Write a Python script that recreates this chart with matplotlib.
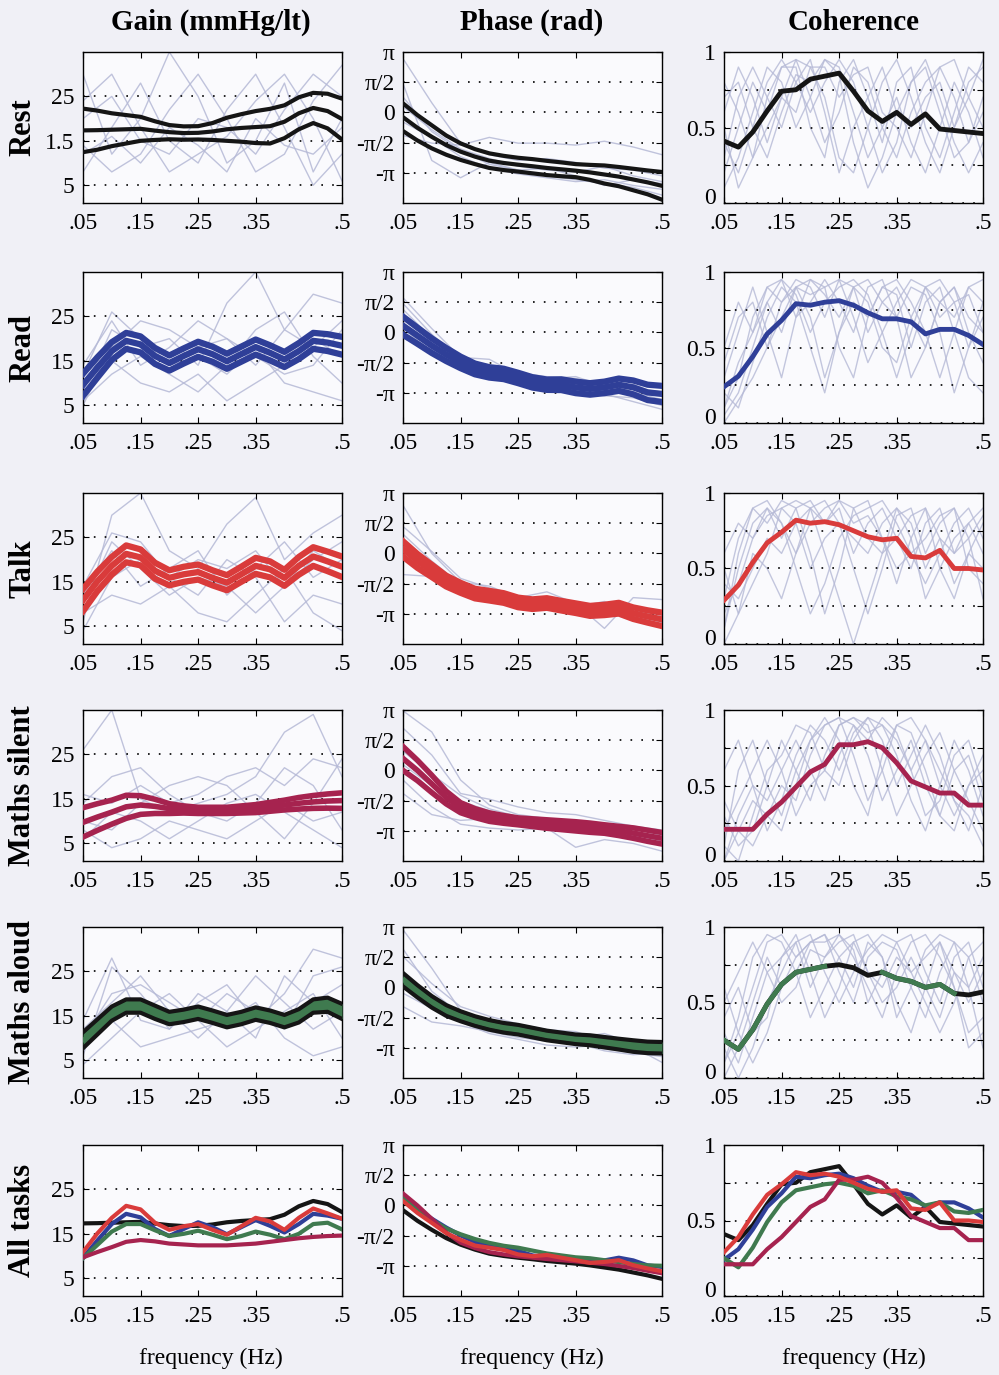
import numpy as np
import matplotlib
matplotlib.use("Agg")
import matplotlib.pyplot as plt

plt.rcParams['font.family'] = ['Liberation Serif', 'DejaVu Serif']

# ---------------- data ----------------
FREQ = [0.05, 0.075, 0.1, 0.125, 0.15, 0.175, 0.2, 0.225, 0.25, 0.275,
        0.3, 0.325, 0.35, 0.375, 0.4, 0.425, 0.45, 0.475, 0.5]
FREQ10 = [0.05, 0.1, 0.15, 0.2, 0.25, 0.3, 0.35, 0.4, 0.45, 0.5]

row_labels = ['Rest', 'Read', 'Talk', 'Maths silent', 'Maths aloud', 'All tasks']
col_titles = ['Gain (mmHg/lt)', 'Phase (rad)', 'Coherence']
xtick_vals = [0.05, 0.15, 0.25, 0.35, 0.5]
xtick_labels = ['.05', '.15', '.25', '.35', '.5']
gain_ticks = [5, 15, 25]
phase_ticks = [np.pi, np.pi / 2, 0, -np.pi / 2, -np.pi]
phase_tick_labels = ['π', 'π/2', '0', '-π/2', '-π']
coh_ticks = [0, 0.25, 0.5, 0.75, 1]
coh_tick_labels = ['', '', '0.5', '', '1']   # '0' is drawn separately, nudged up

# group means and standard errors
rest_gain_mean = [17.35, 17.4, 17.5, 17.6, 17.7, 17.3, 16.95, 16.75, 16.8, 17.1, 17.6, 17.9, 18.1, 18.3, 19.3, 21.2, 22.4, 21.7, 19.9]
rest_gain_se = [4.9, 4.4, 3.7, 3.2, 2.7, 2.1, 1.6, 1.5, 1.5, 1.9, 2.6, 3.1, 3.6, 3.9, 3.7, 3.6, 3.4, 3.9, 4.6]
rest_phase_mean = [-0.25, -0.80, -1.27, -1.70, -2.04, -2.30, -2.51, -2.63, -2.72, -2.80, -2.89, -2.96, -3.03, -3.12, -3.23, -3.34, -3.49, -3.64, -3.82]
rest_phase_se = [0.72, 0.66, 0.60, 0.50, 0.43, 0.39, 0.38, 0.37, 0.36, 0.37, 0.37, 0.36, 0.34, 0.39, 0.47, 0.50, 0.56, 0.62, 0.72]
rest_coh = [0.41, 0.37, 0.47, 0.61, 0.74, 0.75, 0.82, 0.84, 0.86, 0.74, 0.61, 0.54, 0.60, 0.52, 0.59, 0.49, 0.48, 0.47, 0.46]

read_gain_mean = [9.6, 13.5, 17.2, 19.5, 18.7, 16.1, 14.5, 16.1, 17.6, 16.5, 14.9, 16.5, 18.1, 16.8, 15.3, 17.2, 19.5, 19.1, 18.4]
read_gain_se = [2.5, 2.3, 2.0, 1.8, 1.8, 1.8, 1.7, 1.7, 1.7, 1.7, 1.7, 1.7, 1.7, 1.7, 1.7, 1.8, 1.8, 1.9, 2.0]
read_phase_mean = [0.35, -0.17, -0.69, -1.15, -1.56, -1.9, -2.08, -2.16, -2.37, -2.6, -2.72, -2.72, -2.86, -2.94, -2.86, -2.72, -2.86, -3.12, -3.2]
read_phase_se = [0.47, 0.42, 0.38, 0.34, 0.3, 0.28, 0.27, 0.27, 0.27, 0.27, 0.27, 0.28, 0.3, 0.3, 0.3, 0.32, 0.36, 0.4, 0.42]
read_coh = [0.24, 0.31, 0.44, 0.59, 0.68, 0.79, 0.78, 0.80, 0.81, 0.78, 0.73, 0.69, 0.69, 0.67, 0.59, 0.62, 0.62, 0.58, 0.52]

talk_gain_mean = [10.9, 15.1, 18.6, 21.3, 20.5, 17.5, 15.9, 16.7, 17.2, 15.9, 14.8, 16.7, 18.6, 17.8, 15.9, 18.6, 20.7, 19.6, 18.4]
talk_gain_se = [2.5, 2.2, 2.0, 1.9, 1.8, 1.8, 1.7, 1.7, 1.7, 1.7, 1.7, 1.7, 1.8, 1.8, 1.8, 2.0, 2.1, 2.2, 2.3]
talk_phase_mean = [0.23, -0.39, -0.91, -1.44, -1.79, -2.09, -2.2, -2.32, -2.55, -2.64, -2.58, -2.72, -2.85, -2.99, -2.94, -2.85, -3.11, -3.28, -3.43]
talk_phase_se = [0.4, 0.36, 0.32, 0.28, 0.26, 0.25, 0.25, 0.25, 0.25, 0.25, 0.25, 0.25, 0.25, 0.26, 0.27, 0.28, 0.3, 0.32, 0.35]
talk_coh = [0.29, 0.39, 0.54, 0.67, 0.74, 0.82, 0.80, 0.81, 0.79, 0.75, 0.71, 0.69, 0.70, 0.58, 0.57, 0.62, 0.50, 0.50, 0.49]

silent_gain_mean = [9.7, 10.9, 12.0, 13.2, 13.6, 13.3, 12.8, 12.6, 12.4, 12.4, 12.4, 12.6, 12.8, 13.2, 13.6, 14.0, 14.3, 14.5, 14.6]
silent_gain_se = [3.3, 3.0, 2.7, 2.6, 2.1, 1.6, 1.1, 0.8, 0.7, 0.7, 0.7, 0.8, 0.9, 1.0, 1.1, 1.3, 1.45, 1.6, 1.75]
silent_phase_mean = [0.62, 0.0, -0.7, -1.41, -1.94, -2.22, -2.43, -2.55, -2.65, -2.72, -2.79, -2.85, -2.91, -2.98, -3.05, -3.15, -3.26, -3.40, -3.53]
silent_phase_se = [0.62, 0.53, 0.45, 0.33, 0.26, 0.23, 0.22, 0.2, 0.18, 0.2, 0.22, 0.23, 0.24, 0.24, 0.22, 0.24, 0.27, 0.29, 0.3]
silent_coh = [0.21, 0.21, 0.21, 0.31, 0.39, 0.49, 0.59, 0.64, 0.77, 0.77, 0.79, 0.75, 0.65, 0.53, 0.49, 0.45, 0.45, 0.37, 0.37]

aloud_gain_mean = [9.5, 12.5, 15.5, 17.2, 17.2, 15.8, 14.5, 15.0, 15.7, 14.8, 13.8, 14.5, 15.5, 14.8, 13.8, 15.0, 17.2, 17.5, 16.0]
aloud_gain_se = [1.8, 1.7, 1.6, 1.5, 1.5, 1.5, 1.4, 1.4, 1.4, 1.4, 1.4, 1.4, 1.4, 1.4, 1.4, 1.5, 1.5, 1.6, 1.7]
aloud_phase_mean = [0.4, -0.2, -0.75, -1.2, -1.5, -1.75, -1.95, -2.1, -2.2, -2.35, -2.5, -2.6, -2.7, -2.75, -2.85, -2.95, -3.05, -3.12, -3.14]
aloud_phase_se = [0.35, 0.32, 0.3, 0.28, 0.26, 0.25, 0.25, 0.25, 0.25, 0.25, 0.25, 0.25, 0.25, 0.26, 0.27, 0.28, 0.3, 0.3, 0.3]
aloud_coh = [0.25, 0.19, 0.32, 0.49, 0.62, 0.70, 0.72, 0.74, 0.75, 0.73, 0.68, 0.70, 0.66, 0.64, 0.60, 0.62, 0.56, 0.55, 0.57]
aloud_coh_green_spans = [(0.05, 0.225), (0.325, 0.45)]

# individual subjects (subset), sampled on FREQ10 (gain, phase) / FREQ (coherence)
rest_gain_subj = [
    [30, 12, 20, 35, 25, 10, 15, 28, 8, 20],
    [8, 18, 28, 15, 10, 22, 30, 18, 5, 12],
    [20, 25, 15, 12, 20, 18, 12, 22, 30, 25],
    [14, 8, 12, 22, 30, 20, 8, 12, 24, 32],
    [24, 30, 18, 8, 12, 16, 24, 30, 20, 6],
    [12, 16, 10, 18, 14, 8, 20, 14, 12, 18],
]
rest_phase_subj = [
    [2.8, 0.5, -1.6, -2.2, -2.5, -2.4, -2.6, -2.9, -3.0, -3.3],
    [1.5, -2.5, -3.4, -2.6, -3.0, -2.9, -3.3, -3.8, -3.5, -3.7],
    [0.8, -1.0, -2.0, -2.7, -3.0, -3.3, -3.5, -3.7, -3.9, -4.3],
    [-1.2, -1.6, -1.7, -1.3, -1.6, -1.6, -1.7, -1.5, -1.8, -2.2],
    [0.3, -0.9, -1.9, -2.4, -2.8, -3.0, -3.1, -2.8, -3.3, -3.6],
    [-0.5, -1.3, -2.3, -2.9, -3.2, -3.4, -3.6, -3.5, -3.8, -4.0],
]
rest_coh_subj = [
    [0.2, 0.5, 0.8, 0.6, 0.9, 0.95, 0.7, 0.4, 0.6, 0.9, 0.8, 0.5, 0.3, 0.6, 0.8, 0.9, 0.7, 0.4, 0.6],
    [0.6, 0.9, 0.7, 0.4, 0.7, 0.95, 0.9, 0.7, 0.3, 0.2, 0.5, 0.8, 0.95, 0.7, 0.4, 0.2, 0.5, 0.8, 0.9],
    [0.1, 0.3, 0.6, 0.9, 0.8, 0.5, 0.7, 0.95, 0.9, 0.6, 0.3, 0.5, 0.7, 0.4, 0.2, 0.5, 0.8, 0.6, 0.3],
    [0.4, 0.2, 0.5, 0.8, 0.95, 0.8, 0.6, 0.8, 0.95, 0.8, 0.5, 0.2, 0.4, 0.8, 0.9, 0.6, 0.3, 0.4, 0.7],
    [0.8, 0.6, 0.3, 0.5, 0.7, 0.6, 0.9, 0.9, 0.7, 0.85, 0.9, 0.6, 0.5, 0.3, 0.6, 0.9, 0.95, 0.7, 0.5],
    [0.3, 0.7, 0.9, 0.7, 0.5, 0.8, 0.95, 0.6, 0.2, 0.5, 0.7, 0.9, 0.6, 0.8, 0.95, 0.7, 0.4, 0.2, 0.4],
    [0.5, 0.1, 0.3, 0.7, 0.9, 0.9, 0.5, 0.3, 0.8, 0.95, 0.7, 0.4, 0.8, 0.9, 0.5, 0.3, 0.6, 0.9, 0.8],
    [0.7, 0.8, 0.5, 0.3, 0.6, 0.85, 0.8, 0.95, 0.85, 0.4, 0.1, 0.3, 0.6, 0.5, 0.7, 0.8, 0.5, 0.7, 0.95],
]
read_gain_subj = [
    [8, 22, 18, 20, 14, 28, 35, 22, 18, 24],
    [12, 26, 20, 14, 16, 12, 18, 10, 8, 6],
    [5, 18, 24, 22, 18, 20, 14, 22, 30, 28],
    [10, 15, 10, 8, 12, 6, 10, 14, 20, 16],
    [14, 24, 14, 18, 24, 20, 16, 12, 14, 22],
    [6, 12, 16, 12, 8, 14, 22, 26, 16, 10],
]
read_phase_subj = [
    [1.8, 0.2, -1.3, -1.4, -2.2, -2.4, -2.3, -2.8, -2.7, -3.3],
    [0.8, -0.5, -1.6, -2.0, -2.5, -2.5, -2.9, -2.6, -3.1, -3.5],
    [0.2, -1.0, -1.9, -2.4, -2.6, -2.9, -3.1, -3.3, -3.4, -3.8],
    [1.2, -0.3, -1.5, -1.9, -2.3, -2.8, -2.6, -3.0, -3.2, -3.3],
    [-0.3, -0.9, -1.7, -2.2, -2.4, -2.6, -2.8, -3.2, -3.6, -4.0],
    [1.5, -0.1, -1.4, -1.7, -2.1, -2.3, -2.4, -2.7, -2.9, -3.1],
]
read_coh_subj = [
    [0.1, 0.3, 0.7, 0.9, 0.8, 0.95, 0.9, 0.7, 0.95, 0.9, 0.6, 0.8, 0.9, 0.7, 0.5, 0.8, 0.9, 0.7, 0.6],
    [0.05, 0.2, 0.5, 0.8, 0.95, 0.85, 0.6, 0.8, 0.9, 0.95, 0.85, 0.6, 0.3, 0.6, 0.9, 0.95, 0.8, 0.5, 0.7],
    [0.3, 0.6, 0.9, 0.6, 0.3, 0.7, 0.95, 0.9, 0.5, 0.3, 0.7, 0.9, 0.95, 0.8, 0.6, 0.3, 0.6, 0.9, 0.8],
    [0.2, 0.1, 0.4, 0.7, 0.9, 0.8, 0.5, 0.2, 0.6, 0.9, 0.95, 0.8, 0.7, 0.9, 0.85, 0.6, 0.2, 0.5, 0.8],
    [0.4, 0.7, 0.8, 0.5, 0.7, 0.9, 0.95, 0.85, 0.7, 0.9, 0.8, 0.5, 0.4, 0.7, 0.9, 0.8, 0.9, 0.6, 0.4],
    [0.1, 0.4, 0.6, 0.9, 0.95, 0.7, 0.8, 0.95, 0.8, 0.6, 0.9, 0.95, 0.7, 0.3, 0.5, 0.8, 0.7, 0.9, 0.95],
    [0.0, 0.15, 0.3, 0.5, 0.8, 0.9, 0.7, 0.3, 0.6, 0.8, 0.7, 0.9, 0.85, 0.5, 0.8, 0.9, 0.6, 0.3, 0.2],
    [0.5, 0.8, 0.6, 0.8, 0.6, 0.9, 0.85, 0.9, 0.95, 0.7, 0.4, 0.6, 0.8, 0.95, 0.9, 0.7, 0.8, 0.85, 0.6],
]
talk_gain_subj = [
    [6, 30, 35, 22, 18, 28, 34, 20, 26, 30],
    [10, 24, 18, 12, 16, 14, 8, 14, 22, 18],
    [4, 16, 20, 16, 12, 20, 16, 6, 12, 10],
    [12, 22, 14, 18, 22, 12, 18, 24, 16, 20],
    [8, 12, 10, 14, 8, 6, 12, 18, 8, 4],
    [14, 26, 24, 16, 20, 18, 22, 14, 20, 24],
]
talk_phase_subj = [
    [2.5, 0.0, -1.5, -1.7, -2.3, -2.0, -2.6, -3.9, -2.3, -2.4],
    [1.0, -0.4, -1.6, -2.1, -2.4, -2.6, -2.9, -2.7, -3.0, -3.2],
    [-1.1, -1.2, -1.9, -2.3, -2.6, -2.9, -3.0, -3.1, -3.3, -3.5],
    [0.4, -0.7, -1.7, -2.0, -2.5, -2.5, -2.8, -2.5, -3.2, -3.6],
    [1.4, 0.1, -1.3, -1.8, -2.2, -2.7, -2.6, -3.2, -3.1, -3.3],
    [0.6, -0.5, -1.8, -2.3, -2.7, -2.8, -3.1, -3.0, -3.5, -3.7],
]
talk_coh_subj = [
    [0.1, 0.5, 0.8, 0.9, 0.7, 0.9, 0.95, 0.8, 0.9, 0.6, 0.8, 0.9, 0.7, 0.5, 0.8, 0.9, 0.6, 0.7, 0.85],
    [0.3, 0.7, 0.9, 0.8, 0.95, 0.9, 0.6, 0.2, 0.5, 0.9, 0.95, 0.7, 0.4, 0.7, 0.9, 0.5, 0.3, 0.6, 0.8],
    [0.0, 0.2, 0.6, 0.5, 0.3, 0.6, 0.9, 0.95, 0.8, 0.5, 0.2, 0.5, 0.85, 0.9, 0.6, 0.8, 0.9, 0.5, 0.4],
    [0.6, 0.8, 0.7, 0.9, 0.8, 0.5, 0.2, 0.4, 0.7, 0.85, 0.9, 0.95, 0.8, 0.6, 0.4, 0.6, 0.8, 0.9, 0.7],
    [0.2, 0.4, 0.7, 0.85, 0.9, 0.95, 0.9, 0.8, 0.95, 0.9, 0.7, 0.6, 0.9, 0.8, 0.5, 0.7, 0.4, 0.6, 0.5],
    [0.4, 0.3, 0.5, 0.7, 0.6, 0.8, 0.9, 0.6, 0.3, 0.0, 0.3, 0.6, 0.7, 0.85, 0.9, 0.7, 0.6, 0.8, 0.9],
    [0.1, 0.6, 0.9, 0.95, 0.8, 0.6, 0.8, 0.9, 0.95, 0.8, 0.85, 0.7, 0.5, 0.6, 0.7, 0.85, 0.9, 0.7, 0.3],
    [0.5, 0.2, 0.4, 0.6, 0.9, 0.8, 0.5, 0.7, 0.8, 0.7, 0.6, 0.8, 0.9, 0.7, 0.3, 0.5, 0.7, 0.8, 0.6],
]
silent_gain_subj = [
    [26, 35, 15, 12, 14, 16, 20, 30, 34, 20],
    [14, 20, 22, 16, 12, 10, 14, 22, 18, 8],
    [10, 8, 14, 18, 20, 18, 12, 6, 14, 24],
    [6, 12, 10, 6, 10, 14, 16, 12, 8, 4],
    [16, 14, 18, 14, 16, 20, 22, 18, 24, 22],
    [8, 4, 6, 10, 8, 6, 10, 14, 10, 12],
]
silent_phase_subj = [
    [3.1, 2.0, -0.5, -1.8, -2.3, -2.5, -2.7, -2.9, -3.0, -3.4],
    [2.2, 0.8, -1.2, -1.5, -1.9, -2.2, -2.3, -2.6, -2.9, -3.1],
    [-0.5, -1.9, -2.8, -3.0, -3.1, -3.0, -4.0, -3.6, -3.8, -4.2],
    [1.0, -0.2, -1.3, -2.0, -2.4, -2.8, -3.0, -3.2, -3.4, -3.6],
    [-1.2, -2.3, -2.6, -2.5, -2.7, -2.9, -3.1, -3.3, -3.5, -3.9],
    [0.3, -0.8, -1.6, -2.1, -2.5, -2.6, -2.8, -3.1, -3.3, -3.7],
]
silent_coh_subj = [
    [0.1, 0.6, 0.8, 0.5, 0.3, 0.6, 0.8, 0.9, 0.95, 0.9, 0.7, 0.4, 0.6, 0.8, 0.5, 0.3, 0.6, 0.7, 0.4],
    [0.3, 0.1, 0.2, 0.5, 0.8, 0.6, 0.4, 0.7, 0.9, 0.95, 0.85, 0.9, 0.7, 0.4, 0.2, 0.5, 0.8, 0.6, 0.3],
    [0.0, 0.2, 0.4, 0.3, 0.2, 0.5, 0.8, 0.95, 0.8, 0.5, 0.3, 0.7, 0.9, 0.85, 0.6, 0.3, 0.2, 0.5, 0.6],
    [0.6, 0.8, 0.5, 0.2, 0.4, 0.7, 0.9, 0.8, 0.6, 0.85, 0.95, 0.8, 0.5, 0.7, 0.9, 0.7, 0.4, 0.2, 0.5],
    [0.2, 0.4, 0.6, 0.8, 0.6, 0.3, 0.5, 0.6, 0.9, 0.95, 0.9, 0.6, 0.3, 0.5, 0.7, 0.85, 0.6, 0.4, 0.2],
    [0.1, 0.0, 0.3, 0.6, 0.7, 0.9, 0.85, 0.6, 0.5, 0.8, 0.95, 0.9, 0.8, 0.6, 0.3, 0.4, 0.7, 0.8, 0.5],
    [0.4, 0.2, 0.1, 0.3, 0.5, 0.4, 0.7, 0.9, 0.95, 0.7, 0.4, 0.6, 0.9, 0.95, 0.8, 0.5, 0.3, 0.5, 0.7],
    [0.0, 0.3, 0.5, 0.4, 0.6, 0.8, 0.6, 0.4, 0.7, 0.9, 0.8, 0.95, 0.85, 0.6, 0.8, 0.6, 0.4, 0.3, 0.1],
]
aloud_gain_subj = [
    [6, 26, 20, 12, 18, 22, 14, 20, 30, 28],
    [12, 18, 24, 16, 10, 16, 24, 18, 12, 16],
    [4, 10, 16, 20, 14, 8, 12, 16, 20, 10],
    [14, 28, 14, 12, 20, 16, 10, 24, 18, 22],
    [8, 14, 8, 10, 12, 14, 18, 10, 6, 8],
    [10, 20, 22, 18, 14, 20, 16, 12, 24, 26],
]
aloud_phase_subj = [
    [3.0, 1.0, -1.2, -1.8, -2.0, -2.4, -2.6, -2.4, -2.9, -3.0],
    [1.6, 0.2, -1.0, -1.5, -1.9, -2.2, -2.3, -2.8, -3.0, -3.2],
    [-0.3, -1.1, -1.8, -2.4, -2.7, -3.0, -3.1, -3.0, -3.3, -3.5],
    [0.8, -0.6, -1.5, -2.1, -2.4, -2.6, -2.9, -3.2, -3.4, -3.6],
    [-1.0, -1.8, -2.0, -2.3, -2.6, -2.8, -2.9, -3.3, -3.5, -3.4],
    [2.0, -0.2, -1.4, -1.9, -2.2, -2.5, -2.7, -2.8, -3.1, -3.9],
]
aloud_coh_subj = [
    [0.1, 0.3, 0.6, 0.9, 0.95, 0.8, 0.9, 0.95, 0.7, 0.5, 0.8, 0.9, 0.85, 0.6, 0.4, 0.7, 0.9, 0.8, 0.5],
    [0.3, 0.1, 0.4, 0.7, 0.8, 0.95, 0.7, 0.4, 0.6, 0.9, 0.95, 0.8, 0.5, 0.3, 0.6, 0.9, 0.7, 0.5, 0.7],
    [0.0, 0.2, 0.5, 0.8, 0.6, 0.7, 0.9, 0.9, 0.95, 0.8, 0.6, 0.4, 0.7, 0.9, 0.95, 0.8, 0.6, 0.3, 0.4],
    [0.5, 0.7, 0.9, 0.7, 0.5, 0.6, 0.85, 0.8, 0.9, 0.95, 0.7, 0.6, 0.8, 0.7, 0.5, 0.3, 0.5, 0.8, 0.9],
    [0.2, 0.0, 0.2, 0.5, 0.7, 0.9, 0.95, 0.7, 0.5, 0.7, 0.85, 0.95, 0.9, 0.7, 0.8, 0.9, 0.6, 0.2, 0.3],
    [0.4, 0.6, 0.3, 0.4, 0.8, 0.9, 0.6, 0.8, 0.95, 0.85, 0.5, 0.7, 0.9, 0.95, 0.7, 0.5, 0.8, 0.9, 0.6],
    [0.1, 0.4, 0.8, 0.95, 0.9, 0.7, 0.4, 0.6, 0.8, 0.6, 0.9, 0.8, 0.4, 0.6, 0.85, 0.95, 0.9, 0.6, 0.2],
    [0.6, 0.3, 0.1, 0.3, 0.6, 0.8, 0.9, 0.95, 0.8, 0.9, 0.7, 0.5, 0.6, 0.8, 0.6, 0.4, 0.7, 0.6, 0.8],
]

# ---------------- style ----------------
COLORS = {'Rest': '#151515', 'Read': '#2f3f98', 'Talk': '#d93b3b',
          'Maths silent': '#a6234f', 'Maths aloud': '#3f7a4f'}
EDGE = {'Rest': None, 'Read': None, 'Talk': None, 'Maths silent': None,
        'Maths aloud': '#151515'}
BAND_LW = {'Rest': 3.0, 'Read': 4.5, 'Talk': 4.5, 'Maths silent': 4.0, 'Maths aloud': 3.0}
SUBJ_COLOR = '#b5b9d6'
FIG_BG = '#f0f0f6'
AX_BG = '#fafafd'

conds = {
    'Rest': (rest_gain_mean, rest_gain_se, rest_phase_mean, rest_phase_se, rest_coh,
             rest_gain_subj, rest_phase_subj, rest_coh_subj),
    'Read': (read_gain_mean, read_gain_se, read_phase_mean, read_phase_se, read_coh,
             read_gain_subj, read_phase_subj, read_coh_subj),
    'Talk': (talk_gain_mean, talk_gain_se, talk_phase_mean, talk_phase_se, talk_coh,
             talk_gain_subj, talk_phase_subj, talk_coh_subj),
    'Maths silent': (silent_gain_mean, silent_gain_se, silent_phase_mean, silent_phase_se, silent_coh,
                     silent_gain_subj, silent_phase_subj, silent_coh_subj),
    'Maths aloud': (aloud_gain_mean, aloud_gain_se, aloud_phase_mean, aloud_phase_se, aloud_coh,
                    aloud_gain_subj, aloud_phase_subj, aloud_coh_subj),
}

W, H = 999, 1375
fig = plt.figure(figsize=(W / 100, H / 100), dpi=100, facecolor=FIG_BG)

col_left = [83, 403, 724]
col_width = 259
row_top = [52, 272, 493, 710, 927, 1145]
row_h = 151
TICK_FS = 17

def make_ax(r, c):
    return fig.add_axes([col_left[c] / W, 1 - (row_top[r] + row_h) / H,
                         col_width / W, row_h / H], facecolor=AX_BG)

def style(ax, kind, r):
    ax.set_xlim(0.05, 0.5)
    ax.set_xticks(xtick_vals)
    ax.set_xticklabels(xtick_labels, fontsize=TICK_FS)
    if kind == 'gain':
        ax.set_ylim(1, 35)
        ax.set_yticks(gain_ticks)
        ax.set_yticklabels(['5', '1.5' if r == 0 else '15', '25'], fontsize=TICK_FS)
    elif kind == 'phase':
        ax.set_ylim(-1.5 * np.pi, np.pi)
        ax.set_yticks(phase_ticks)
        ax.set_yticklabels(phase_tick_labels, fontsize=TICK_FS)
    else:
        ax.set_ylim(0, 1)
        ax.set_yticks(coh_ticks)
        ax.set_yticklabels(coh_tick_labels, fontsize=TICK_FS)
        ax.annotate('0', xy=(0, 0), xycoords='axes fraction', xytext=(-6, 3),
                    textcoords='offset points', ha='right', va='center',
                    fontsize=TICK_FS, annotation_clip=False)
    ax.yaxis.grid(True, linestyle=(0, (1, 5.5)), color='black', lw=1.2)
    ax.xaxis.grid(False)
    ax.tick_params(direction='in', top=True, right=True, length=4, width=0.8,
                   pad=6, colors='black')
    ax.tick_params(axis='x', pad=7)
    for s in ax.spines.values():
        s.set_linewidth(1.0)
        s.set_color('black')
    ax.set_axisbelow(False)

def band(ax, mean, se, color, edge, lw):
    mean = np.array(mean)
    se = np.array(se)
    ec = edge if edge else color
    if edge:
        ax.fill_between(FREQ, mean - se, mean + se, color=color, lw=0, zorder=3)
    ax.plot(FREQ, mean + se, color=ec, lw=lw, zorder=3)
    ax.plot(FREQ, mean - se, color=ec, lw=lw, zorder=3)
    ax.plot(FREQ, mean, color=color, lw=lw, zorder=4)

for r, name in enumerate(row_labels[:5]):
    gm, gse, pm, pse, coh, gsub, psub, csub = conds[name]
    color = COLORS[name]
    # gain
    ax = make_ax(r, 0)
    for s in gsub:
        ax.plot(FREQ10, s, color=SUBJ_COLOR, lw=1.0, alpha=0.85, zorder=1)
    band(ax, gm, gse, color, EDGE[name], BAND_LW[name])
    style(ax, 'gain', r)
    # phase
    ax = make_ax(r, 1)
    for s in psub:
        ax.plot(FREQ10, s, color=SUBJ_COLOR, lw=1.0, alpha=0.85, zorder=1)
    band(ax, pm, pse, color, EDGE[name], BAND_LW[name])
    style(ax, 'phase', r)
    # coherence
    ax = make_ax(r, 2)
    for s in csub:
        ax.plot(FREQ, s, color=SUBJ_COLOR, lw=1.0, alpha=0.8, zorder=1)
    if name == 'Maths aloud':
        ax.plot(FREQ, coh, color='#151515', lw=3.5, zorder=3)
        f = np.array(FREQ)
        c = np.array(coh, dtype=float)
        for a, b in aloud_coh_green_spans:
            seg = np.where((f >= a) & (f <= b), c, np.nan)
            ax.plot(FREQ, seg, color=color, lw=3.5, zorder=4)
    else:
        ax.plot(FREQ, coh, color=color, lw=3.5, zorder=3)
    style(ax, 'coh', r)

# All tasks row
order = ['Rest', 'Read', 'Maths aloud', 'Maths silent', 'Talk']
axg, axp, axc = make_ax(5, 0), make_ax(5, 1), make_ax(5, 2)
for name in order:
    gm, gse, pm, pse, coh = conds[name][:5]
    axg.plot(FREQ, gm, color=COLORS[name], lw=3.0, zorder=3)
    axp.plot(FREQ, pm, color=COLORS[name], lw=3.0, zorder=3)
    axc.plot(FREQ, coh, color=COLORS[name], lw=3.0, zorder=3)
style(axg, 'gain', 5)
style(axp, 'phase', 5)
style(axc, 'coh', 5)

# titles, row labels, x labels
col_centers = [211, 532, 854]
for c, t in enumerate(col_titles):
    fig.text(col_centers[c] / W, 1 - 22 / H, t, ha='center', va='center',
             fontsize=21, fontweight='bold')
for r, t in enumerate(row_labels):
    fig.text(23 / W, 1 - (row_top[r] + row_h / 2) / H, t, ha='center', va='center',
             rotation=90, fontsize=22, fontweight='bold')
for c in range(3):
    fig.text(col_centers[c] / W, 1 - 1358 / H, 'frequency (Hz)', ha='center',
             va='center', fontsize=17)

fig.savefig('out.png', dpi=100, facecolor=FIG_BG)
